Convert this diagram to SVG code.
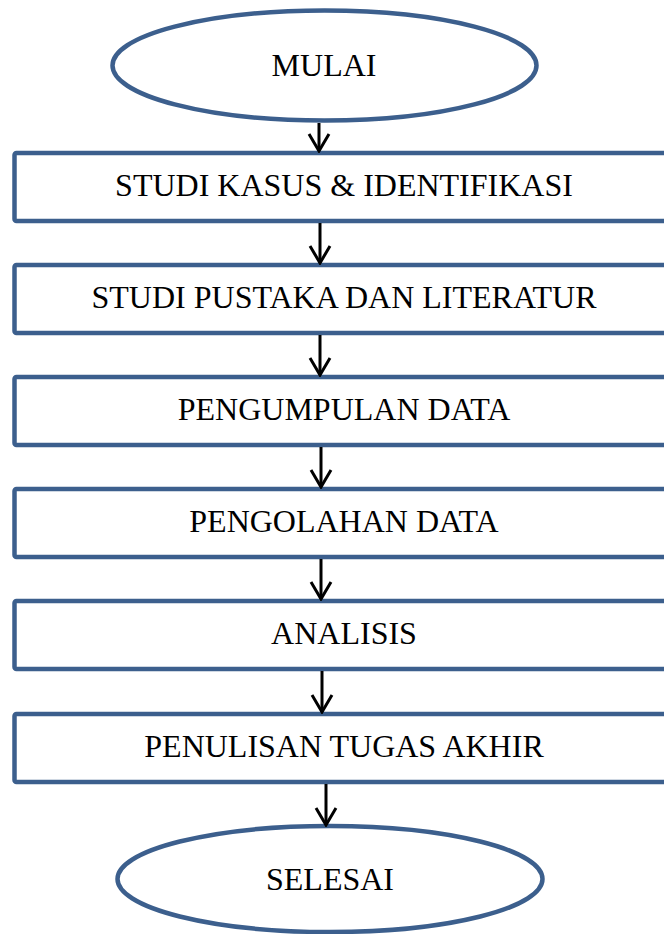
<svg xmlns="http://www.w3.org/2000/svg" width="664" height="934" viewBox="0 0 664 934">
<style>
.shape{fill:#fff;stroke:#3C5F8D;stroke-width:4.5}
.lbl{font-family:"Liberation Serif","Times New Roman",serif;font-size:32px;fill:#000;text-anchor:middle}
.conn{stroke:#000;stroke-width:3;fill:none}
</style>
<defs>
<marker id="ah" markerUnits="userSpaceOnUse" viewBox="-20 -12 22 24" refX="0" refY="0" markerWidth="22" markerHeight="24" orient="auto">
<path d="M-17,-10 L0,0 L-17,10" fill="none" stroke="#000" stroke-width="3"/>
</marker>
</defs>
<rect width="664" height="934" fill="#fff"/>
<g id="n-mulai">
<ellipse class="shape" cx="324.5" cy="65.5" rx="212" ry="55"/>
<text class="lbl" x="324" y="76">MULAI</text>
</g>
<g id="n-studi-kasus">
<rect class="shape" x="14.5" y="153" width="662" height="68" rx="2"/>
<text class="lbl" x="344" y="196">STUDI KASUS &amp; IDENTIFIKASI</text>
</g>
<g id="n-studi-pustaka">
<rect class="shape" x="14.5" y="265" width="662" height="68" rx="2"/>
<text class="lbl" x="344" y="308">STUDI PUSTAKA DAN LITERATUR</text>
</g>
<g id="n-pengumpulan">
<rect class="shape" x="14.5" y="377" width="662" height="68" rx="2"/>
<text class="lbl" x="344" y="420">PENGUMPULAN DATA</text>
</g>
<g id="n-pengolahan">
<rect class="shape" x="14.5" y="489" width="662" height="68" rx="2"/>
<text class="lbl" x="344" y="532">PENGOLAHAN DATA</text>
</g>
<g id="n-analisis">
<rect class="shape" x="14.5" y="601" width="662" height="68" rx="2"/>
<text class="lbl" x="344" y="644">ANALISIS</text>
</g>
<g id="n-penulisan">
<rect class="shape" x="14.5" y="714" width="662" height="68" rx="2"/>
<text class="lbl" x="344" y="757">PENULISAN TUGAS AKHIR</text>
</g>
<g id="n-selesai">
<ellipse class="shape" cx="330" cy="879" rx="212.5" ry="53"/>
<text class="lbl" x="330" y="890">SELESAI</text>
</g>
<g id="connectors">
<line class="conn" x1="319" y1="123" x2="319" y2="151" marker-end="url(#ah)"/>
<line class="conn" x1="320" y1="223" x2="320" y2="263" marker-end="url(#ah)"/>
<line class="conn" x1="320" y1="335" x2="320" y2="375" marker-end="url(#ah)"/>
<line class="conn" x1="321" y1="447" x2="321" y2="487" marker-end="url(#ah)"/>
<line class="conn" x1="321" y1="559" x2="321" y2="599" marker-end="url(#ah)"/>
<line class="conn" x1="322" y1="671" x2="322" y2="712" marker-end="url(#ah)"/>
<line class="conn" x1="326" y1="784" x2="326" y2="825" marker-end="url(#ah)"/>
</g>
</svg>
